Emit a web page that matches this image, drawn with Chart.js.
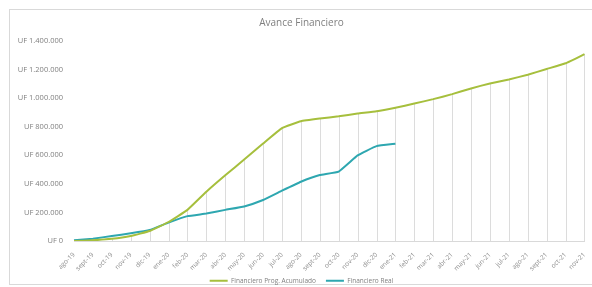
<!DOCTYPE html>
<html lang="es">
<head>
<meta charset="utf-8">
<title>Avance Financiero</title>
<script src="https://cdn.jsdelivr.net/npm/chart.js@4.4.1/dist/chart.umd.min.js"></script>
<style>
    html, body { margin: 0; padding: 0; background: #fff; }
    #frame {
        position: absolute; left: 9px; top: 9px; width: 600px; height: 276px;
        border: 1px solid #d9d9d9; box-sizing: border-box;
    }
    #wrap { position: absolute; left: 0; top: 0; width: 592px; height: 287px; }
</style>
</head>
<body>
<div id="frame"></div>
<div id="wrap"><canvas id="chart"></canvas></div>
<script>
// === Datos ===
const categories = [
    'ago-19', 'sept-19', 'oct-19', 'nov-19', 'dic-19', 'ene-20', 'feb-20', 'mar-20',
    'abr-20', 'may-20', 'jun-20', 'jul-20', 'ago-20', 'sept-20', 'oct-20', 'nov-20',
    'dic-20', 'ene-21', 'feb-21', 'mar-21', 'abr-21', 'may-21', 'jun-21', 'jul-21',
    'ago-21', 'sept-21', 'oct-21', 'nov-21'
];
const progAcumulado = [
    0, 5000, 15000, 35000, 70000, 133000, 218000, 345000,
    460000, 570000, 682000, 790000, 838000, 857000, 873000, 892000,
    908000, 933000, 962000, 993000, 1028000, 1068000, 1103000, 1131000,
    1164000, 1204000, 1244000, 1308000
];
const real = [
    5000, 16000, 35000, 54000, 77000, 129000, 174000, 192000,
    218000, 242000, 287000, 352000, 415000, 462000, 486000, 599000,
    664000, 681000
];
const yTicks = [0, 200000, 400000, 600000, 800000, 1000000, 1200000, 1400000];

const FONT = "'Open Sans', sans-serif";
const GREEN = '#a6bf3d';
const TEAL = '#2ea7b0';

function formatUF(v) {
    return 'UF ' + String(v).replace(/\B(?=(\d{3})+(?!\d))/g, '.');
}

// líneas verticales desde la curva programada hasta el eje
const dropLines = {
    id: 'dropLines',
    beforeDatasetsDraw(chart) {
        const meta = chart.getDatasetMeta(0);
        const bottom = chart.chartArea.bottom;
        const ctx = chart.ctx;
        ctx.save();
        ctx.strokeStyle = '#dcdcdc';
        ctx.lineWidth = 1;
        meta.data.forEach(pt => {
            const x = Math.round(pt.x) + 0.5;
            ctx.beginPath();
            ctx.moveTo(x, pt.y);
            ctx.lineTo(x, bottom);
            ctx.stroke();
        });
        ctx.restore();
    }
};

new Chart(document.getElementById('chart'), {
    type: 'line',
    data: {
        labels: categories,
        datasets: [
            {
                label: 'Financiero Prog. Acumulado',
                data: progAcumulado,
                borderColor: GREEN,
                backgroundColor: GREEN,
                borderWidth: 2,
                pointRadius: 0,
                tension: 0.1
            },
            {
                label: 'Financiero Real',
                data: real,
                borderColor: TEAL,
                backgroundColor: TEAL,
                borderWidth: 2,
                pointRadius: 0,
                tension: 0.1
            }
        ]
    },
    options: {
        responsive: true,
        maintainAspectRatio: false,
        animation: false,
        layout: { padding: { left: 8, right: -3, top: 0, bottom: -7 } },
        plugins: {
            title: {
                display: true,
                text: 'Avance Financiero',
                color: '#7f7f7f',
                font: { family: FONT, size: 10, weight: 'normal' },
                padding: { top: 17, bottom: 12 }
            },
            legend: {
                position: 'bottom',
                labels: {
                    usePointStyle: true,
                    pointStyle: 'line',
                    pointStyleWidth: 18,
                    color: '#808080',
                    font: { family: FONT, size: 6.5 },
                    padding: 3.5,
                    // un poco más de aire entre las dos entradas
                    generateLabels(chart) {
                        const items = Chart.defaults.plugins.legend.labels.generateLabels(chart);
                        if (items.length) items[0].text += '\u2002\u2002';
                        return items;
                    }
                }
            },
            tooltip: { enabled: false }
        },
        scales: {
            x: {
                offset: false,
                afterFit(scale) { scale.height = 33; },
                grid: { display: false },
                border: { display: true, color: '#d9d9d9' },
                ticks: {
                    autoSkip: false,
                    maxRotation: 45,
                    minRotation: 45,
                    color: '#8c8c8c',
                    font: { family: FONT, size: 6.5 },
                    padding: 2
                }
            },
            y: {
                min: 0,
                max: 1400000,
                afterFit(scale) { scale.width = 66; },
                afterBuildTicks(scale) { scale.ticks = yTicks.map(v => ({ value: v })); },
                grid: { display: false },
                border: { display: false },
                ticks: {
                    color: '#808080',
                    font: { family: FONT, size: 7.5 },
                    padding: 3,
                    callback: (v, i) => formatUF(yTicks[i])
                }
            }
        }
    },
    plugins: [dropLines]
});
</script>
</body>
</html>
